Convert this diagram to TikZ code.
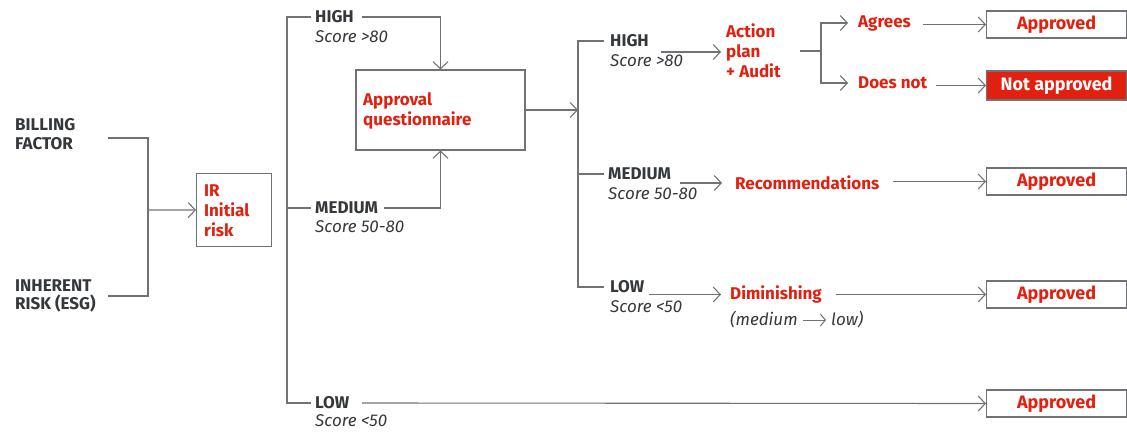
\documentclass[tikz,border=0pt]{standalone}
\usepackage{fontspec}
\setmainfont{Fira Sans}
\usetikzlibrary{arrows.meta}
\definecolor{lnc}{HTML}{707275}
\definecolor{txc}{HTML}{35383B}
\definecolor{rdc}{HTML}{E2200F}
\begin{document}
\begin{tikzpicture}[x=1pt,y=-1pt,
 lnst/.style={draw=lnc,line width=1.1pt},
 arrst/.style={lnst,-{Straight Barb[length=7pt,width=15pt,line width=1.1pt]}},
 captxt/.style={font=\fontsize{17}{18.5}\selectfont\bfseries,text=txc,anchor=west,inner sep=0,align=left},
 scrtxt/.style={font=\fontsize{17}{18}\selectfont\itshape,text=txc,anchor=west,inner sep=0},
 redtxt/.style={font=\fontsize{17}{20}\selectfont\bfseries,text=rdc,anchor=west,inner sep=0,align=left},
 boxst/.style={draw=lnc,line width=1.1pt,inner sep=0},
 okbox/.style={boxst,minimum width=140pt,minimum height=27pt,anchor=west,font=\fontsize{18}{18}\selectfont\bfseries,text=rdc},
]
\useasboundingbox (0,0) rectangle (1127,431);

% inputs
\node[captxt] (bill) at (15,134) {BILLING\\FACTOR};
\node[captxt] (inh) at (15,296) {INHERENT\\RISK (ESG)};
\coordinate (bE) at (108,138);
\coordinate (iE) at (108,296);
\coordinate (jn) at (148,210);
\node[boxst,anchor=north west,minimum width=75pt,minimum height=73pt] (ir) at (196,173) {};
\node[redtxt] (irt) at (204,211) {IR\\Initial\\risk};
\draw[lnst] (bE) -| (jn) |- (iE);
\draw[arrst] (jn) -- (ir.west);

% first split
\coordinate (v1t) at (287,17);
\coordinate (v1m) at (287,208);
\coordinate (v1b) at (287,403);
\coordinate (h1) at (311,17);
\coordinate (m1) at (311,208);
\coordinate (l1) at (311,403);
\draw[lnst] (h1) -- (v1t) -- (v1b) -- (l1);
\draw[lnst] (v1m) -- (m1);
\node[captxt] (hiA) at (315,17) {HIGH};
\node[scrtxt] (hiAs) at (315,37) {Score >80};
\node[captxt] (meA) at (315,208) {MEDIUM};
\node[scrtxt] (meAs) at (315,227) {Score 50-80};
\node[captxt] (loA) at (315,403) {LOW};
\node[scrtxt] (loAs) at (315,421) {Score <50};

\node[boxst,minimum width=169pt,minimum height=80pt] (aq) at (440.5,110) {};
\node[redtxt] (aqt) at (363,111) {Approval\\questionnaire};
\coordinate (hiAe) at (362,17);
\coordinate (meAe) at (384,208);
\draw[arrst] (hiAe) -| (aq.north);
\draw[arrst] (meAe) -| (aq.south);
\coordinate (v2a) at (578,110);
\draw[arrst] (aq.east) -- (v2a);

% second split
\coordinate (v2t) at (578,41);
\coordinate (v2m) at (578,174);
\coordinate (v2b) at (578,287);
\coordinate (h2) at (604,41);
\coordinate (m2) at (604,174);
\coordinate (l2) at (604,287);
\draw[lnst] (h2) -- (v2t) -- (v2b) -- (l2);
\draw[lnst] (v2m) -- (m2);
\node[captxt] (hiB) at (610,41) {HIGH};
\node[scrtxt] (hiBs) at (610,61) {Score >80};
\node[captxt] (meB) at (608,174) {MEDIUM};
\node[scrtxt] (meBs) at (608,194) {Score 50-80};
\node[captxt] (loB) at (610,287) {LOW};
\node[scrtxt] (loBs) at (610,307) {Score <50};

% high branch
\coordinate (hiBa) at (661,52);
\coordinate (apw) at (721,52);
\draw[arrst] (hiBa) -- (apw);
\node[redtxt] (ap) at (726,51) {Action\\plan\\+ Audit};
\coordinate (apE) at (800,51);
\coordinate (fork) at (821,51);
\coordinate (agw) at (848,23);
\coordinate (dnw) at (848,83);
\draw[lnst] (apE) -- (fork);
\draw[arrst] (fork) |- (agw);
\draw[arrst] (fork) |- (dnw);
\node[redtxt] (ag) at (858,23) {Agrees};
\node[redtxt] (dn) at (858,83) {Does not};
\node[okbox] (ok1) at (986,24.5) {Approved};
\node[boxst,fill=rdc,minimum width=140pt,minimum height=29pt,anchor=west,font=\fontsize{18}{18}\selectfont\bfseries,text=white] (na) at (986,85.5) {Not approved};
\coordinate (agE) at (923,24.5);
\coordinate (dnE) at (936,85.5);
\draw[arrst] (agE) -- (ok1.west);
\draw[arrst] (dnE) -- (na.west);

% medium branch
\coordinate (meBa) at (680,183);
\coordinate (rcw) at (722,183);
\draw[arrst] (meBa) -- (rcw);
\node[redtxt] (rc) at (735,183) {Recommendations};
\node[okbox] (ok2) at (986,181.5) {Approved};
\coordinate (rcE) at (893,181.5);
\draw[arrst] (rcE) -- (ok2.west);

% low branch
\coordinate (loBa) at (649,294.5);
\coordinate (dmw) at (721,294.5);
\draw[arrst] (loBa) -- (dmw);
\node[redtxt] (dm) at (730,294) {Diminishing};
\node[scrtxt] (dm1) at (730,320) {(medium};
\coordinate (dma) at (803,320);
\coordinate (dmb) at (826,320);
\draw[lnst,-{Straight Barb[length=5pt,width=12pt,line width=1pt]},line width=1pt] (dma) -- (dmb);
\node[scrtxt] (dm2) at (831,320) {low)};
\node[okbox] (ok3) at (986,294.5) {Approved};
\coordinate (dmE) at (836,294.5);
\draw[arrst] (dmE) -- (ok3.west);

% low main
\node[okbox] (ok4) at (986,403.5) {Approved};
\coordinate (loAe) at (362,403);
\draw[arrst] (loAe) -- (ok4.west);
\end{tikzpicture}
\end{document}
